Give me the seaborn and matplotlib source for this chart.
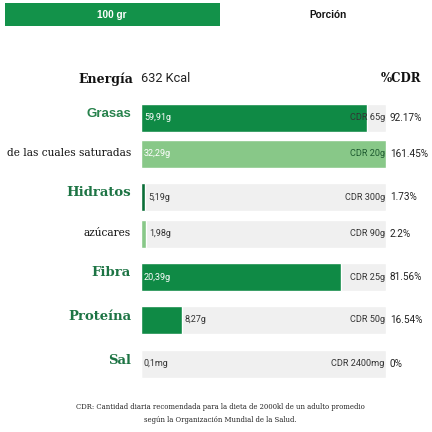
import pandas as pd
import seaborn as sns
import matplotlib.pyplot as plt

# nutrient rows
nutrients = ['Grasas', 'de las cuales saturadas', 'Hidratos', 'azúcares', 'Fibra', 'Proteína', 'Sal']
amounts = ['59,91g', '32,29g', '5,19g', '1,98g', '20,39g', '8,27g', '0,1mg']
cdr = ['CDR 65g', 'CDR 20g', 'CDR 300g', 'CDR 90g', 'CDR 25g', 'CDR 50g', 'CDR 2400mg']
pct = [92.17, 161.45, 1.73, 2.2, 81.56, 16.54, 0]
pct_labels = ['92.17%', '161.45%', '1.73%', '2.2%', '81.56%', '16.54%', '0%']
is_sub = [False, True, False, True, False, False, False]

# layout (pixel rows, figure is 432 px tall)
row_y = [118, 154, 197, 234, 277, 320, 364]
W = 432
track_l, track_r = 141, 386

dark_green = '#0f8a45'
dark_green2 = '#0b6e38'
light_green = '#88c888'
label_green = '#1d7444'
track_col = '#f0f0f0'
txt = '#333333'

sns.set_style('white')
plt.rcParams['font.family'] = ['DejaVu Sans']

df = pd.DataFrame({'name': nutrients, 'y': row_y,
                   'fill': [min(p, 100) / 100 for p in pct],
                   'track': [1.0] * len(nutrients)})
bar_cols = [dark_green, light_green, dark_green2, light_green, dark_green, dark_green, dark_green]
pal = dict(zip(nutrients, bar_cols))

fig = plt.figure(figsize=(4.32, 4.32), dpi=100)
ax = fig.add_axes([track_l / W, 0, (track_r - track_l) / W, 1])

sns.barplot(data=df, x='track', y='y', orient='h', native_scale=True, color=track_col,
            width=28 / 36, ax=ax, saturation=1)
sns.barplot(data=df, x='fill', y='y', hue='name', palette=pal, orient='h', native_scale=True,
            dodge=False, legend=False, width=28 / 36, ax=ax, saturation=1)
ax.set_xlim(0, 1)
ax.set_ylim(W, 0)
ax.set_axis_off()

# figure-level pixel axes for free text
tx = fig.add_axes([0, 0, 1, 1], zorder=-1)
tx.set_xlim(0, W)
tx.set_ylim(W, 0)
tx.set_axis_off()

# header
tx.add_patch(plt.Rectangle((5, 3), 215, 23, color='#13924a', lw=0))
tx.text(112, 15, '100 gr', color='white', ha='center', va='center', fontsize=7.2, fontweight='bold',
        family='Liberation Sans')
tx.text(328, 15, 'Porción', color='#111111', ha='center', va='center', fontsize=7.2, fontweight='bold',
        family='Liberation Sans')

# energy row
tx.text(133, 79, 'Energía', ha='right', va='center', fontsize=9, fontweight='bold',
        family='DejaVu Serif', color='#111111')
tx.text(141, 79, '632 Kcal', ha='left', va='center', fontsize=9.2, family='Roboto', color='#222222')
tx.text(421, 79, '%CDR', ha='right', va='center', fontsize=8.5, fontweight='bold',
        family='DejaVu Serif', color='#111111')

for i, name in enumerate(nutrients):
    y = row_y[i]
    if is_sub[i]:
        tx.text(131, y - 1, name, ha='right', va='center', fontsize=7.6, family='DejaVu Serif',
                color='#111111')
    elif name == 'Grasas':
        tx.text(131, y - 4, name, ha='right', va='center', fontsize=9.5, fontweight='bold',
                family='Liberation Sans', color='#27824c')
    else:
        tx.text(131, y - 4, name, ha='right', va='center', fontsize=9.5, fontweight='bold',
                family='DejaVu Serif', color=label_green)
    frac = min(pct[i], 100) / 100
    end = track_l + frac * (track_r - track_l)
    if frac > 0.5:
        ax.text(0.012, y, amounts[i], color='white', ha='left', va='center', fontsize=6.5,
                family='Roboto')
    else:
        ax.text((end - track_l) / (track_r - track_l) + 0.012, y, amounts[i], color=txt,
                ha='left', va='center', fontsize=6.5, family='Roboto')
    ax.text(0.995, y, cdr[i], color=txt if frac < 0.95 else '#1e5a30', ha='right', va='center',
            fontsize=6.6, family='Roboto')
    tx.text(390, y, pct_labels[i], color='#222222', ha='left', va='center', fontsize=7.2,
            family='Roboto')

# footnote
tx.text(220, 407, 'CDR: Cantidad diaria recomendada para la dieta de 2000kl de un adulto promedio',
        ha='center', va='center', fontsize=4.95, family='DejaVu Serif', color='#222222')
tx.text(220, 420, 'según la Organización Mundial de la Salud.',
        ha='center', va='center', fontsize=4.95, family='DejaVu Serif', color='#222222')

fig.savefig('out.png', dpi=100)
